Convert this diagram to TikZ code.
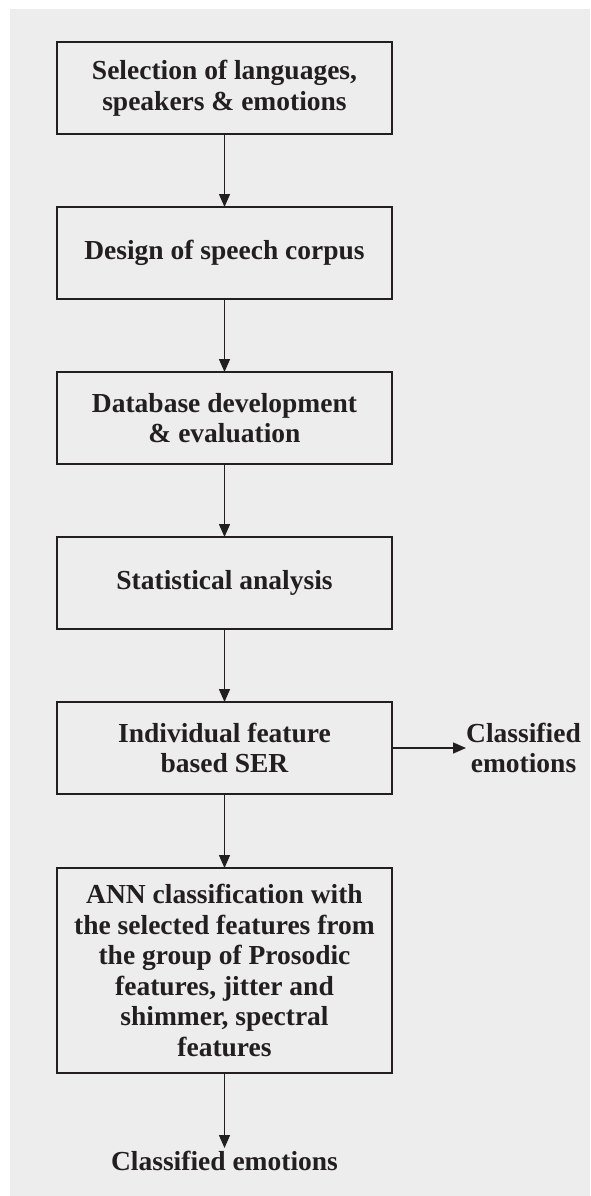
\documentclass[tikz,border=0pt]{standalone}
\usepackage{fontspec}
\setmainfont{Liberation Serif}
\usetikzlibrary{positioning,arrows.meta}
\definecolor{bggray}{HTML}{EDEDED}
\definecolor{ink}{HTML}{231F20}
\begin{document}
\begin{tikzpicture}[
            x=1pt, y=-1pt,
            node distance=73pt,
            stage/.style={rectangle, draw=ink, line width=1.5pt, outer sep=0pt, minimum width=335pt, minimum height=92pt, align=center, text=ink, font=\fontsize{27.5}{30.5}\selectfont\bfseries},
            result/.style={inner sep=0pt, align=center, text=ink, font=\fontsize{27.5}{30.5}\selectfont\bfseries},
            flow/.style={draw=ink, line width=1.4pt, -{Triangle[length=13pt, width=11pt]}}
        ]
        \useasboundingbox (0,0) rectangle (590,1196);
        \fill[bggray] (10,9) rectangle (590,1196);
        \node[stage] (select) at (224.5,88) {Selection of languages,\\speakers \& emotions};
        \node[stage, below=of select] (corpus) {Design of speech corpus};
        \node[stage, below=of corpus] (database) {Database development\\\& evaluation};
        \node[stage, below=of database] (stats) {Statistical analysis};
        \node[stage, below=of stats] (indiv) {Individual feature\\based SER};
        \node[stage, below=74pt of indiv, minimum height=205pt] (ann) {ANN classification with\\the selected features from\\the group of Prosodic\\features, jitter and\\shimmer, spectral\\features};
        \node[result, right=74pt of indiv] (sideout) {Classified\\emotions};
        \node[result, below=78pt of ann] (finalout) {Classified emotions};

        \draw[flow] (select) -- (corpus);
        \draw[flow] (corpus) -- (database);
        \draw[flow] (database) -- (stats);
        \draw[flow] (stats) -- (indiv);
        \draw[flow] (indiv) -- (ann);
        \draw[flow] (indiv) -- (sideout);
        \draw[flow] (ann) -- ([yshift=3pt]finalout.north);
        \end{tikzpicture}
\end{document}
